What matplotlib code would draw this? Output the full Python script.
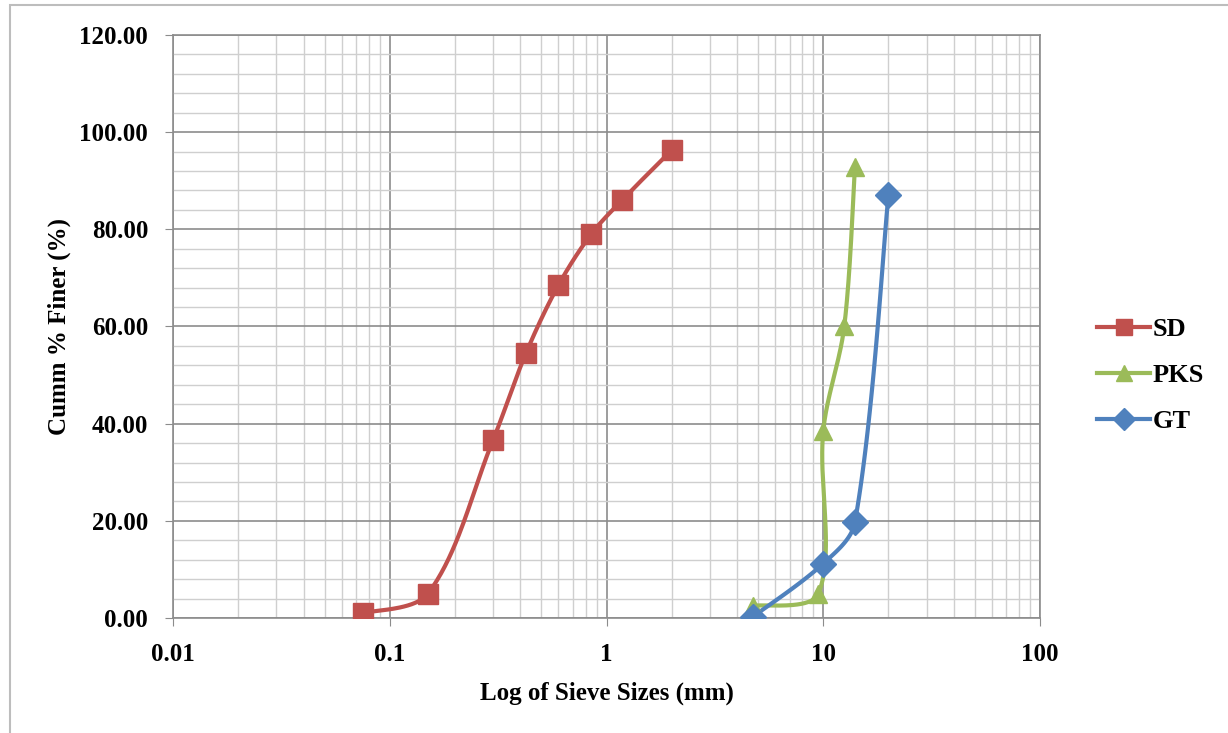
import numpy as np
import matplotlib
matplotlib.use("Agg")
import matplotlib.pyplot as plt
from matplotlib.ticker import FixedLocator, FixedFormatter, MultipleLocator, FormatStrFormatter
from matplotlib.patches import Rectangle

# sieve sizes (mm) and cumulative % finer
sd_size = [0.075, 0.15, 0.3, 0.425, 0.6, 0.85, 1.18, 2.0]
sd_finer = [1.0, 5.0, 36.7, 54.5, 68.5, 79.0, 86.0, 96.3]

pks_size = [4.75, 9.5, 10.0, 12.5, 14.0]
pks_finer = [2.5, 5.0, 38.5, 60.0, 92.8]

gt_size = [4.75, 10.0, 14.0, 20.0]
gt_finer = [0.3, 11.2, 19.7, 87.1]

names = ['SD', 'PKS', 'GT']
colors = ['#C0504D', '#9BBB59', '#4F81BD']
markers = ['s', '^', 'D']

plt.rcParams['font.family'] = ['Liberation Serif', 'DejaVu Serif']
plt.rcParams['font.weight'] = 'bold'

fig = plt.figure(figsize=(12.28, 7.33), dpi=100)
ax = fig.add_axes([0.1409, 0.1569, 0.8469 - 0.1409, 0.9523 - 0.1569])

# axis pixel scale, used to smooth curves in screen space like Excel does
xw = 867 / 4.0   # px per decade
yw = 583 / 120.0  # px per unit


def smooth(xs, ys, n=40):
    px = np.log10(np.array(xs)) * xw
    py = np.array(ys) * yw
    pts = np.column_stack([px, py])
    m = len(pts)
    d = np.hypot(*np.diff(pts, axis=0).T)
    out = []
    for i in range(m - 1):
        p1, p2 = pts[i], pts[i + 1]
        if i > 0:
            tan1 = pts[i + 1] - pts[i - 1]
            c1 = p1 + tan1 / 3.0 * d[i] / (d[i - 1] + d[i])
        else:
            c1 = p1 + (p2 - p1) / 3.0 * 0.5
        if i + 2 < m:
            tan2 = pts[i + 2] - pts[i]
            c2 = p2 - tan2 / 3.0 * d[i] / (d[i] + d[i + 1])
        else:
            c2 = p2 - (p2 - p1) / 3.0 * 0.5
        t = np.linspace(0, 1, n)[:, None]
        seg = ((1 - t) ** 3) * p1 + 3 * ((1 - t) ** 2) * t * c1 + 3 * (1 - t) * t ** 2 * c2 + t ** 3 * p2
        out.append(seg if i == 0 else seg[1:])
    out = np.vstack(out)
    return 10 ** (out[:, 0] / xw), out[:, 1] / yw


series = [(sd_size, sd_finer), (pks_size, pks_finer), (gt_size, gt_finer)]
handles = []
for (xs, ys), name, c, m in zip(series, names, colors, markers):
    sx, sy = smooth(xs, ys)
    ax.plot(sx, sy, color=c, lw=3, zorder=3, solid_capstyle='round')
    ms = 14 if m == 's' else 13
    ax.plot(xs, ys, linestyle='none', marker=m, color=c, markersize=ms, zorder=4)
    h, = ax.plot([], [], color=c, lw=3, marker=m, markersize=ms - 2, label=name)
    handles.append(h)

ax.set_xscale('log')
ax.set_xlim(0.01, 100)
ax.set_ylim(0, 120)

ax.xaxis.set_major_locator(FixedLocator([0.01, 0.1, 1, 10, 100]))
ax.xaxis.set_major_formatter(FixedFormatter(['0.01', '0.1', '1', '10', '100']))
ax.xaxis.set_minor_locator(FixedLocator([k * 10.0 ** e for e in range(-2, 2) for k in range(2, 10)]))
ax.xaxis.set_minor_formatter(FixedFormatter([]))
ax.yaxis.set_major_locator(MultipleLocator(20))
ax.yaxis.set_minor_locator(MultipleLocator(4))
ax.yaxis.set_major_formatter(FormatStrFormatter('%.2f'))

ax.grid(True, which='major', color='#8c8c8c', lw=1.2)
ax.grid(True, which='minor', color='#cfcfcf', lw=1.0)
ax.set_axisbelow(True)
for s in ax.spines.values():
    s.set_color('#8c8c8c')
    s.set_linewidth(1.2)

ax.tick_params(which='major', length=6, color='#8c8c8c', labelsize=18, pad=12)
ax.tick_params(which='minor', length=0)
ax.tick_params(axis='x', pad=12)

ax.set_xlabel('Log of Sieve Sizes (mm)', fontsize=18, fontweight='bold', labelpad=11)
ax.set_ylabel('Cumm % Finer (%)', fontsize=18, fontweight='bold', labelpad=6)

fig.legend(handles=handles, loc='center left', bbox_to_anchor=(0.885, 0.488),
           frameon=False, fontsize=19, handlelength=2.0, handletextpad=0.1,
           labelspacing=0.85, borderaxespad=0)

fig.patches.append(Rectangle((10 / 1228, -0.02), 1.1, 1.0 - 5 / 733 + 0.02,
                             transform=fig.transFigure, fill=False,
                             edgecolor='#bdbdbd', lw=1.5))

fig.savefig('out.png', dpi=100)
